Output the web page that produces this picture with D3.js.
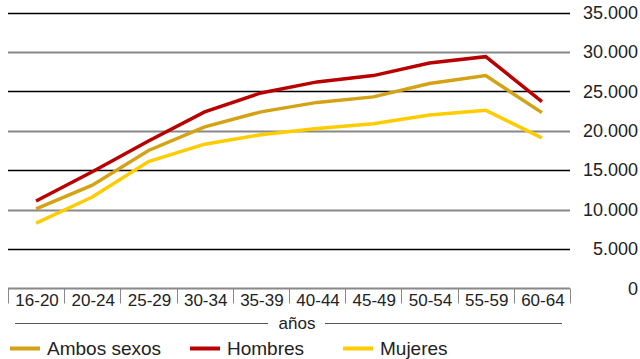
<!DOCTYPE html>
<html>
<head>
<meta charset="utf-8">
<script src="https://cdnjs.cloudflare.com/ajax/libs/d3/7.8.5/d3.min.js"></script>
<style>
  html, body { margin: 0; padding: 0; background: #fff; }
  svg { display: block; font-family: "Liberation Sans", Arial, sans-serif; }
</style>
</head>
<body>
<svg id="chart" width="640" height="359"></svg>
<script>
// Age groups (x axis)
const categories = ["16-20", "20-24", "25-29", "30-34", "35-39", "40-44", "45-49", "50-54", "55-59", "60-64"];

// Series values (euros)
const ambosSexos = [10100, 13100, 17500, 20500, 22400, 23600, 24300, 26000, 27000, 22300];
const hombres    = [11100, 14800, 18700, 22400, 24800, 26200, 27000, 28600, 29400, 23700];
const mujeres    = [8300, 11600, 16100, 18300, 19500, 20300, 20900, 22000, 22600, 19100];

// Y tick values
const yTicks = [0, 5000, 10000, 15000, 20000, 25000, 30000, 35000];

const seriesNames = ["Ambos sexos", "Hombres", "Mujeres"];
const seriesColors = ["#d4a215", "#b80000", "#ffcc00"];
const seriesData = [ambosSexos, hombres, mujeres];

const svg = d3.select("#chart");
const plotLeft = 8, plotRight = 570, plotTop = 12.5, plotBottom = 288.5;

const x = d3.scaleBand().domain(categories).range([plotLeft, plotRight]);
const y = d3.scaleLinear().domain([0, 35000]).range([plotBottom, plotTop]);

const fmt = v => d3.format(",")(v).replace(/,/g, ".");

// Horizontal gridlines, alternating dark and grey
svg.append("g").selectAll("line")
  .data(yTicks.filter(t => t > 0))
  .join("line")
  .attr("x1", plotLeft).attr("x2", plotRight)
  .attr("y1", d => Math.round(y(d)) + 0.5).attr("y2", d => Math.round(y(d)) + 0.5)
  .attr("stroke", (d, i) => (i % 2 === 0) ? "#000" : "#888")
  .attr("stroke-width", (d, i) => (i % 2 === 0) ? 1.3 : 2);

// Y axis labels on the right
const yAxis = d3.axisRight(y).tickValues(yTicks).tickFormat(fmt).tickSize(0);
const gy = svg.append("g").attr("transform", "translate(638,0)").call(yAxis);
gy.select(".domain").remove();
gy.selectAll("text")
  .attr("x", 0)
  .attr("text-anchor", "end")
  .attr("fill", "#222")
  .style("font-size", "18px")
  .style("font-family", "'Liberation Sans', Arial, sans-serif");

// Baseline
svg.append("line")
  .attr("x1", plotLeft).attr("x2", plotRight)
  .attr("y1", plotBottom).attr("y2", plotBottom)
  .attr("stroke", "#888").attr("stroke-width", 2);

// Category separators
const seps = categories.map(c => x(c)).concat([plotRight]);
svg.append("g").selectAll("line")
  .data(seps)
  .join("line")
  .attr("x1", d => Math.round(d) + 0.5).attr("x2", d => Math.round(d) + 0.5)
  .attr("y1", plotBottom).attr("y2", plotBottom + 15)
  .attr("stroke", "#888").attr("stroke-width", 1);

// Category labels
svg.append("g").selectAll("text")
  .data(categories)
  .join("text")
  .attr("x", d => x(d) + x.bandwidth() / 2 + 1)
  .attr("y", 306)
  .attr("text-anchor", "middle")
  .attr("fill", "#222")
  .style("font-size", "17px")
  .text(d => d);

// Axis title with rules on both sides
svg.append("line").attr("x1", 15).attr("x2", 268).attr("y1", 323.5).attr("y2", 323.5)
  .attr("stroke", "#555").attr("stroke-width", 1);
svg.append("line").attr("x1", 325).attr("x2", 562).attr("y1", 323.5).attr("y2", 323.5)
  .attr("stroke", "#555").attr("stroke-width", 1);
svg.append("text").attr("x", 297).attr("y", 329)
  .attr("text-anchor", "middle").attr("fill", "#222")
  .style("font-size", "17px").text("años");

// Lines
const line = d3.line()
  .x((d, i) => x(categories[i]) + x.bandwidth() / 2)
  .y(d => y(d));

svg.append("g").selectAll("path")
  .data(seriesData)
  .join("path")
  .attr("d", d => line(d))
  .attr("fill", "none")
  .attr("stroke", (d, i) => seriesColors[i])
  .attr("stroke-width", 3.5)
  .attr("stroke-linejoin", "miter");

// Legend
const legendX = [10, 190, 343];
const lg = svg.append("g").selectAll("g")
  .data(seriesNames)
  .join("g")
  .attr("transform", (d, i) => `translate(${legendX[i]},348)`);
lg.append("line")
  .attr("x1", 0).attr("x2", 30).attr("y1", 0.5).attr("y2", 0.5)
  .attr("stroke", (d, i) => seriesColors[i]).attr("stroke-width", 4);
lg.append("text")
  .attr("x", 37).attr("y", 7)
  .attr("fill", "#222")
  .style("font-size", "19px")
  .text(d => d);
</script>
</body>
</html>
